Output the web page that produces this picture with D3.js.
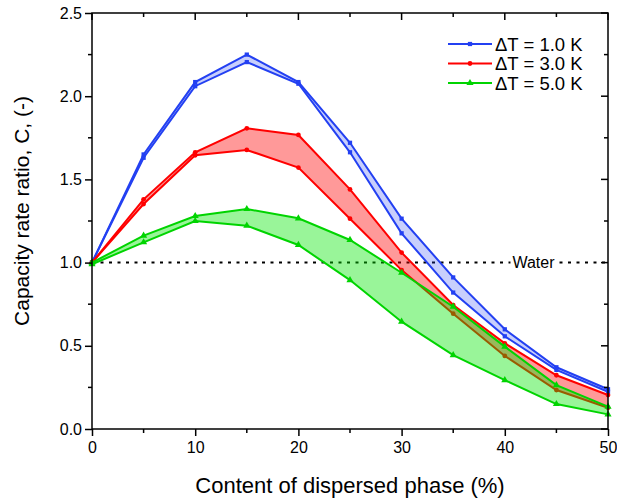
<!DOCTYPE html>
<html><head><meta charset="utf-8">
<script src="https://cdn.jsdelivr.net/npm/d3@7"></script>
<style>body{margin:0;background:#fff}svg{display:block}text{font-family:"Liberation Sans",Arial,sans-serif;fill:#000}</style>
</head><body><svg id="c" width="617" height="500"></svg>
<script>
const content = [0,5,10,15,20,25,30,35,40,45,50];
const blueUpper = [1.0,1.65,2.085,2.25,2.085,1.72,1.264,0.911,0.599,0.371,0.239];
const blueLower = [1.0,1.63,2.06,2.205,2.075,1.663,1.176,0.82,0.557,0.355,0.224];
const redUpper  = [1.0,1.38,1.663,1.807,1.767,1.44,1.06,0.745,0.515,0.323,0.204];
const redLower  = [1.0,1.352,1.645,1.677,1.571,1.264,0.955,0.693,0.439,0.234,0.128];
const greenUpper= [1.0,1.162,1.28,1.322,1.266,1.136,0.939,0.735,0.495,0.264,0.134];
const greenLower= [0.99,1.122,1.25,1.222,1.106,0.895,0.645,0.444,0.294,0.15,0.088];
const seriesNames = ["\u0394T = 1.0 K","\u0394T = 3.0 K","\u0394T = 5.0 K"];
const xTicks = [0,10,20,30,40,50];
const yTicks = [0,0.5,1.0,1.5,2.0,2.5];
const waterLevel = 1.0;

const svg = d3.select("#c");
const L=92,R=608,T=13,B=429;
const x = d3.scaleLinear().domain([0,50]).range([L,R]);
const y = d3.scaleLinear().domain([0,2.5]).range([B,T]);

const series = [
 {name:seriesNames[0],up:blueUpper,lo:blueLower,color:"#2340f2",fill:"rgba(35,64,242,0.25)",sym:d3.symbolSquare,size:18},
 {name:seriesNames[1],up:redUpper,lo:redLower,color:"#ff0000",fill:"rgba(255,0,0,0.4)",sym:d3.symbolCircle,size:18},
 {name:seriesNames[2],up:greenUpper,lo:greenLower,color:"#00d400",fill:"rgba(0,230,0,0.4)",sym:d3.symbolTriangle,size:22}
];

// water line
const g0 = svg.append("g");
g0.append("line").attr("x1",x(0)).attr("x2",x(50)).attr("y1",y(waterLevel)).attr("y2",y(waterLevel))
  .attr("stroke","#000").attr("stroke-width",2).attr("stroke-dasharray","3,5.5");

series.forEach(s=>{
  const g = svg.append("g");
  const area = d3.area().x((d,i)=>x(content[i])).y0((d,i)=>y(s.lo[i])).y1(d=>y(d));
  g.append("path").attr("d",area(s.up)).attr("fill",s.fill);
  const line = d3.line().x((d,i)=>x(content[i])).y(d=>y(d));
  [s.up,s.lo].forEach(arr=>{
    g.append("path").attr("d",line(arr)).attr("fill","none").attr("stroke",s.color).attr("stroke-width",2);
    g.selectAll(null).data(arr).enter().append("path")
      .attr("d",d3.symbol().type(s.sym).size(s.size))
      .attr("transform",(d,i)=>`translate(${x(content[i])},${y(d)})`)
      .attr("fill",s.color);
  });
});

// water label with white background
const wl = svg.append("text").attr("x",533.5).attr("y",y(waterLevel)+5.5).attr("text-anchor","middle")
  .attr("font-size",16).text("Water");
const bb = wl.node().getBBox();
svg.insert("rect","text").attr("x",bb.x-2).attr("y",y(waterLevel)-3).attr("width",bb.width+4).attr("height",6).attr("fill","#fff");
wl.raise();

// axes
const ax = svg.append("g").attr("stroke","#000").attr("stroke-width",1.5);
ax.append("rect").attr("x",L).attr("y",T).attr("width",R-L).attr("height",B-T).attr("fill","none");
const bottom = d3.axisBottom(x).tickValues(xTicks).tickSize(7).tickFormat(d3.format("d"));
const gb = svg.append("g").attr("transform",`translate(0,${B})`).call(bottom);
const left = d3.axisLeft(y).tickValues(yTicks).tickSize(7).tickFormat(d3.format(".1f"));
const gl = svg.append("g").attr("transform",`translate(${L},0)`).call(left);
[gb,gl].forEach(g=>{
  g.select(".domain").remove();
  g.selectAll(".tick line").attr("stroke","#000").attr("stroke-width",1.5);
  g.selectAll(".tick text").attr("font-size",16).attr("font-family","Liberation Sans, Arial, sans-serif").attr("fill","#000");
});
gb.selectAll(".tick text").attr("dy","0.9em");
gl.selectAll(".tick text").attr("x",-10);
const xMinor = [5,15,25,35,45], yMinor=[0.25,0.75,1.25,1.75,2.25];
xMinor.forEach(v=>{
  ax.append("line").attr("x1",x(v)).attr("x2",x(v)).attr("y1",B).attr("y2",B+4);
  ax.append("line").attr("x1",x(v)).attr("x2",x(v)).attr("y1",T).attr("y2",T+4);
});
xTicks.forEach(v=>{ax.append("line").attr("x1",x(v)).attr("x2",x(v)).attr("y1",T).attr("y2",T+7);});
yMinor.forEach(v=>{
  ax.append("line").attr("x1",L-4).attr("x2",L).attr("y1",y(v)).attr("y2",y(v));
  ax.append("line").attr("x1",R-4).attr("x2",R).attr("y1",y(v)).attr("y2",y(v));
});
yTicks.forEach(v=>{ax.append("line").attr("x1",R-7).attr("x2",R).attr("y1",y(v)).attr("y2",y(v));});

// titles
svg.append("text").attr("x",350).attr("y",493).attr("text-anchor","middle").attr("font-size",22).text("Content of dispersed phase (%)");
svg.append("text").attr("transform",`translate(29,211) rotate(-90)`).attr("text-anchor","middle").attr("font-size",21).text("Capacity rate ratio, C, (-)");

// legend
const lg = svg.append("g");
series.forEach((s,i)=>{
  const yy = 44 + i*19.5;
  lg.append("line").attr("x1",448).attr("x2",492).attr("y1",yy).attr("y2",yy).attr("stroke",s.color).attr("stroke-width",2);
  lg.append("path").attr("d",d3.symbol().type(s.sym).size(s.size)).attr("transform",`translate(470,${yy})`).attr("fill",s.color);
  lg.append("text").attr("x",495).attr("y",yy+6.5).attr("font-size",18.5).text(s.name);
});
</script></body></html>
